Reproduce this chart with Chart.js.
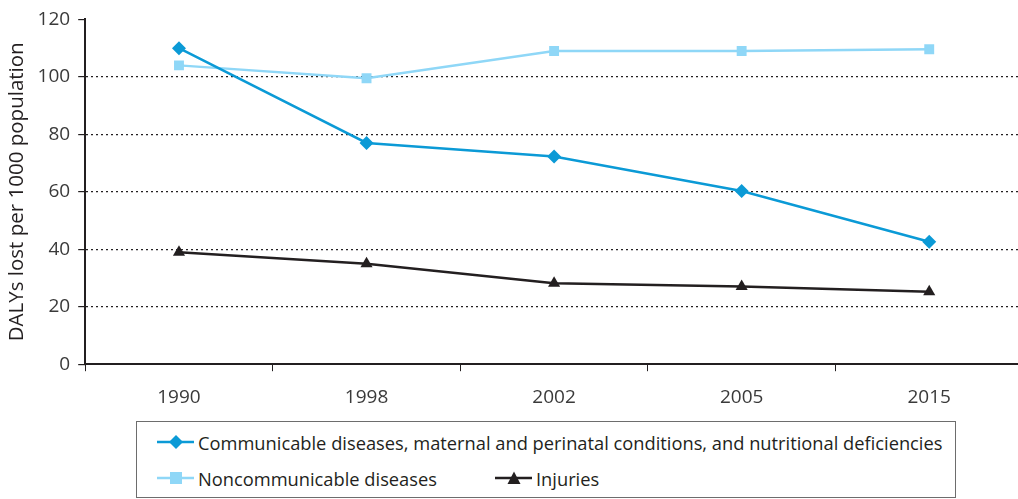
<!DOCTYPE html>
<html>
<head>
<meta charset="utf-8">
<script src="https://cdn.jsdelivr.net/npm/chart.js@4"></script>
<style>
html,body{margin:0;padding:0;background:#fff;overflow:hidden;width:1018px;height:499px;}
#wrap{position:absolute;left:0;top:0;width:1030px;height:424px;}
#legend{position:absolute;left:136px;top:421px;width:818px;height:75px;border:1px solid #6d6d6d;font-family:'Open Sans',sans-serif;font-size:18.3px;color:#231f20;background:#fff;}
.item{position:absolute;display:flex;align-items:center;white-space:nowrap;height:24px;}
.item svg{margin-right:4px;}
</style>
</head>
<body>
<div id="wrap"><canvas id="c"></canvas></div>
<div id="legend"></div>
<script>
const years = ['1990','1998','2002','2005','2015'];
const communicable = [110, 77, 72.3, 60.3, 42.6];
const noncommunicable = [104, 99.5, 109, 109, 109.6];
const injuries = [39, 35, 28.2, 27, 25.2];
const yTicks = [0, 20, 40, 60, 80, 100, 120];
const seriesNames = ['Communicable diseases, maternal and perinatal conditions, and nutritional deficiencies','Noncommunicable diseases','Injuries'];
const colors = ['#0b9ad6','#8fd7f7','#231f20'];
const shapes = ['rectRot','rect','triangle'];

const ds = [communicable, noncommunicable, injuries].map((d,i)=>({
  label: seriesNames[i], data: d, borderColor: colors[i], backgroundColor: colors[i],
  borderWidth: 2.5, pointStyle: shapes[i], pointRadius: 7, pointBorderWidth: 0,
  pointHoverRadius: 7, tension: 0, fill:false
}));

new Chart(document.getElementById('c'), {
  type: 'line',
  data: { labels: years, datasets: ds },
  options: {
    responsive: true, maintainAspectRatio: false, animation: false,
    layout: { padding: { left: 5, right: 2, top: 19, bottom: 0 } },
    plugins: { legend: { display: false }, tooltip: { enabled: false } },
    scales: {
      x: {
        offset: true,
        grid: { offset: true, drawOnChartArea: false, drawTicks: true, tickLength: 7, color: '#231f20', lineWidth: 1 },
        border: { display: true, color: '#231f20', width: 2 },
        ticks: { color: '#3a3a3a', font: { family: 'Open Sans', size: 19 }, padding: 15 }
      },
      y: {
        min: 0, max: 120,
        afterBuildTicks: (s) => { s.ticks = yTicks.map(v => ({ value: v })); },
        grid: {
          color: (ctx) => (ctx.tick && (ctx.tick.value === 0 || ctx.tick.value === 120)) ? 'rgba(0,0,0,0)' : '#231f20',
          tickColor: '#231f20', drawTicks: true, tickLength: 7, lineWidth: 1.2
        },
        border: { display: true, color: '#231f20', width: 2, dash: [2,3] },
        ticks: { color: '#3a3a3a', font: { family: 'Open Sans', size: 19 }, padding: 8 },
        title: { display: true, text: 'DALYs lost per 1000 population', color: '#231f20', font: { family: 'Open Sans', size: 20.5 }, padding: { top: 0, bottom: 0 } }
      }
    }
  }
});

// HTML legend
const legend = document.getElementById('legend');
function marker(i){
  const c = colors[i];
  let m = '';
  if (i===0) m = `<polygon points="19,0 26,7 19,14 12,7" fill="${c}"/>`;
  else if (i===1) m = `<rect x="13" y="1" width="12" height="12" fill="${c}"/>`;
  else m = `<polygon points="19,0.5 25.5,13 12.5,13" fill="${c}"/>`;
  return `<svg width="37" height="14"><line x1="0" y1="7" x2="37" y2="7" stroke="${c}" stroke-width="2.5"/>${m}</svg>`;
}
const pos = [[20,20],[20,56],[358,56]];
seriesNames.forEach((n,i)=>{
  const d = document.createElement('div');
  d.className='item';
  d.style.left = pos[i][0]+'px';
  d.style.top = (pos[i][1]-12)+'px';
  d.innerHTML = marker(i) + '<span>'+n+'</span>';
  legend.appendChild(d);
});
</script>
</body>
</html>
